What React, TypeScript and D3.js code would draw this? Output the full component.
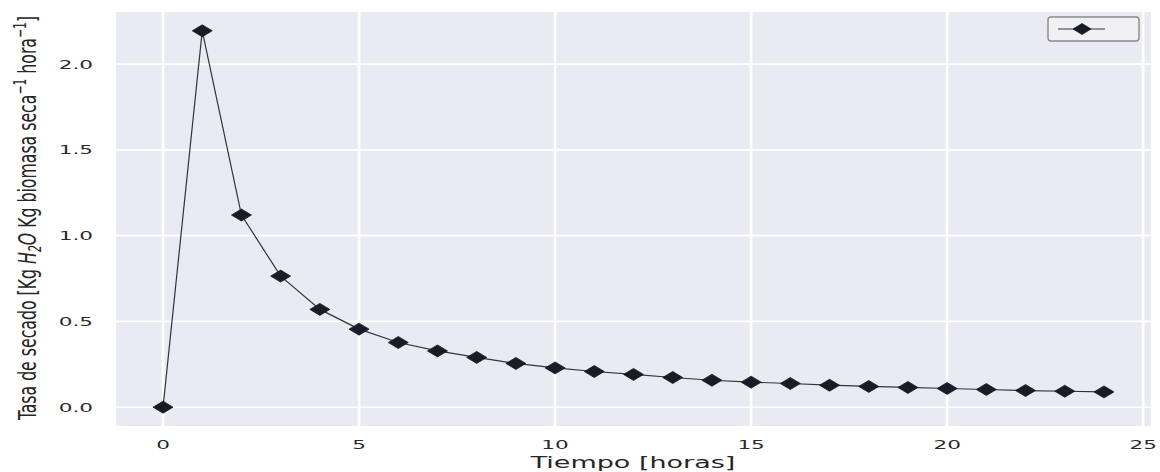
import React from "react";
import * as d3 from "d3";

// Drying rate over time
const hours: number[] = [
  0, 1, 2, 3, 4, 5, 6, 7, 8, 9, 10, 11, 12, 13, 14, 15, 16, 17, 18, 19, 20, 21, 22, 23, 24,
];
const dryingRate: number[] = [
  0.0, 2.194, 1.12, 0.764, 0.57, 0.455, 0.377, 0.328, 0.29, 0.255, 0.229, 0.208, 0.191,
  0.173, 0.157, 0.146, 0.138, 0.128, 0.121, 0.115, 0.109, 0.103, 0.097, 0.093, 0.089,
];
const xTicks: number[] = [0, 5, 10, 15, 20, 25];
const yTicks: number[] = [0.0, 0.5, 1.0, 1.5, 2.0];

const W = 1160;
const H = 472;
const plot = { left: 116, right: 1151, top: 12, bottom: 426 };
const SX = 1.8; // horizontal stretch of the figure's text and markers

const padded = (lo: number, hi: number): [number, number] => {
  const m = (hi - lo) * 0.05;
  return [lo - m, hi + m];
};

const BG = "#EAEAF2";
const MARK = "#171c27";
const FONT = "DejaVu Sans, Verdana, sans-serif";

function Diamond({ cx, cy, w, h }: { cx: number; cy: number; w: number; h: number }) {
  const p = `M${cx - w / 2},${cy} L${cx},${cy - h / 2} L${cx + w / 2},${cy} L${cx},${cy + h / 2} Z`;
  return <path d={p} fill={MARK} stroke={MARK} strokeWidth={0.8} />;
}

export default function App() {
  const x = d3
    .scaleLinear()
    .domain(padded(d3.min(hours)!, d3.max(hours)!))
    .range([plot.left, plot.right]);
  const y = d3
    .scaleLinear()
    .domain(padded(d3.min(dryingRate)!, d3.max(dryingRate)!))
    .range([plot.bottom, plot.top]);

  const pts: [number, number][] = hours.map((h, i) => [h, dryingRate[i]]);
  const line = d3
    .line<[number, number]>()
    .x((d) => x(d[0]))
    .y((d) => y(d[1]));

  const xCenter = (plot.left + plot.right) / 2;
  const yCenter = (plot.top + plot.bottom) / 2;

  return (
    <svg
      width={W}
      height={H}
      style={{ position: "absolute", left: 0, top: 0, background: "#ffffff" }}
    >
      <rect
        x={plot.left}
        y={plot.top}
        width={plot.right - plot.left}
        height={plot.bottom - plot.top}
        fill={BG}
      />
      {/* grid */}
      {xTicks.map((t) => (
        <line
          key={"gx" + t}
          x1={x(t)}
          x2={x(t)}
          y1={plot.top}
          y2={plot.bottom}
          stroke="#ffffff"
          strokeWidth={2.6}
        />
      ))}
      {yTicks.map((t) => (
        <line
          key={"gy" + t}
          x1={plot.left}
          x2={plot.right}
          y1={y(t)}
          y2={y(t)}
          stroke="#ffffff"
          strokeWidth={1.6}
        />
      ))}

      {/* series */}
      <path d={line(pts) ?? ""} fill="none" stroke="#33333b" strokeWidth={1.2} />
      {pts.map((d, i) => (
        <Diamond key={i} cx={x(d[0])} cy={y(d[1])} w={20} h={12} />
      ))}

      {/* x tick labels */}
      {xTicks.map((t) => (
        <text
          key={"xt" + t}
          transform={`translate(${x(t)},${449}) scale(${SX},1)`}
          textAnchor="middle"
          fontFamily={FONT}
          fontSize={12}
          fill="#2a2a2a"
        >
          {String(t)}
        </text>
      ))}
      {/* y tick labels */}
      {yTicks.map((t) => (
        <text
          key={"yt" + t}
          transform={`translate(${93},${y(t) + 4.5}) scale(${SX},1)`}
          textAnchor="end"
          fontFamily={FONT}
          fontSize={12}
          fill="#2a2a2a"
        >
          {t.toFixed(1)}
        </text>
      ))}

      {/* axis titles */}
      <text
        transform={`translate(${xCenter - 0.5},${468}) scale(${SX},1)`}
        textAnchor="middle"
        fontFamily={FONT}
        fontSize={15}
        fill="#262626"
      >
        Tiempo [horas]
      </text>
      <text
        transform={`translate(${36},${yCenter - 1}) rotate(-90) scale(1,1.45)`}
        textAnchor="middle"
        fontFamily="DejaVu Sans Condensed, DejaVu Sans, sans-serif"
        fontSize={17.5}
        fill="#262626"
      >
        <tspan>Tasa de secado [Kg </tspan>
        <tspan fontStyle="italic">H</tspan>
        <tspan fontStyle="italic" fontSize={12} dy={3.5}>
          2
        </tspan>
        <tspan fontStyle="italic" dy={-3.5}>
          O
        </tspan>
        <tspan> Kg biomasa seca</tspan>
        <tspan fontSize={12} dy={-7}>
          −1
        </tspan>
        <tspan dy={7}> hora</tspan>
        <tspan fontSize={12} dy={-7}>
          −1
        </tspan>
        <tspan dy={7}>]</tspan>
      </text>

      {/* legend */}
      <rect
        x={1048}
        y={17}
        width={91}
        height={24}
        rx={3}
        fill="#f0f0f5"
        stroke="#8a8a8a"
        strokeWidth={1.4}
      />
      <line x1={1058} x2={1105} y1={29} y2={29} stroke="#33333b" strokeWidth={1.2} />
      <Diamond cx={1082} cy={29} w={18} h={11} />
    </svg>
  );
}
